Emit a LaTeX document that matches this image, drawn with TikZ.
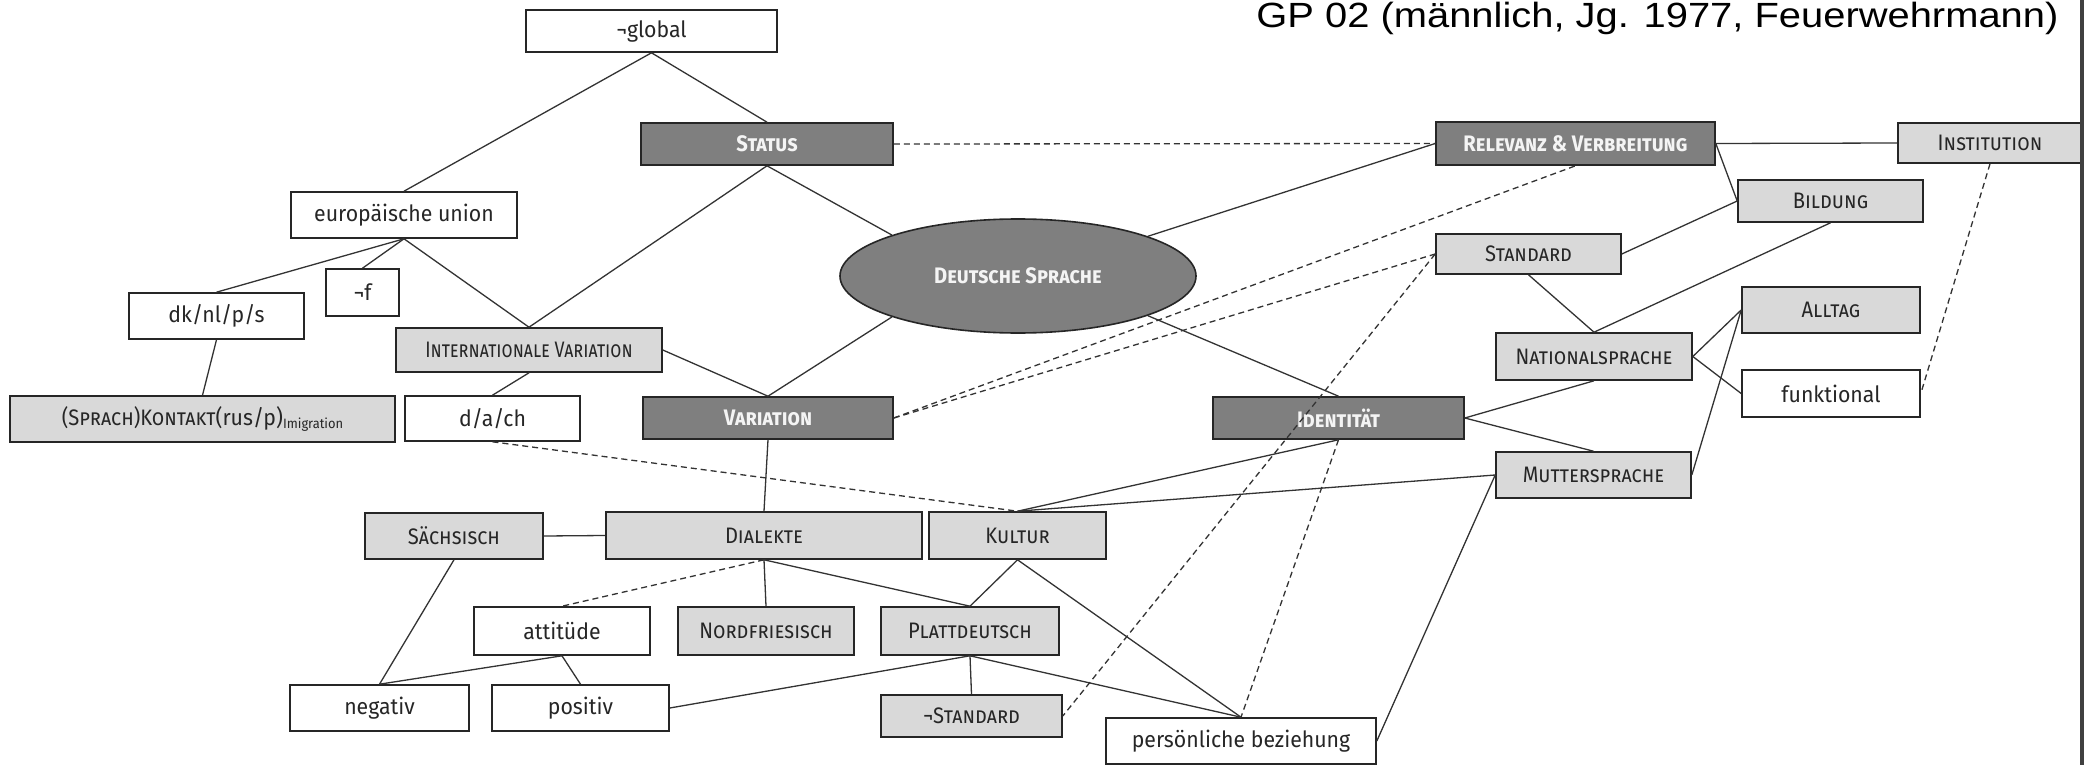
\documentclass[tikz,border=0pt]{standalone}
\usepackage{fontspec}
\usetikzlibrary{shapes.geometric}
\newfontfamily\bxf[FakeStretch=0.9]{Fira Sans}
\newfontfamily\bxl[FakeStretch=0.95]{Fira Sans}
\newfontfamily\bxn[FakeStretch=0.8]{Fira Sans}
\newfontfamily\ttlf[FakeStretch=1.14]{Liberation Sans}
\definecolor{darkfill}{HTML}{7F7F7F}
\definecolor{lightfill}{HTML}{D9D9D9}
\definecolor{edgecol}{HTML}{333333}
\definecolor{darktext}{HTML}{F4F4F4}
\newcommand\gbox[7]{\node[#1, minimum width={(#5-#3)*0.5pt}, minimum height={(#6-#4)*0.5pt}] (#2) at ({(#3+#5)/2},{(#4+#6)/2}) {#7};}
\begin{document}
\begin{tikzpicture}[x=0.5pt,y=-0.5pt,
  base/.style={draw=black!85, line width=0.8pt, inner sep=0pt, font=\bxl\fontsize{11.2}{13}\selectfont},
  darkbox/.style={base, fill=darkfill, text=darktext, font=\bxf\fontsize{11.2}{13}\selectfont\bfseries\scshape},
  lightbox/.style={base, fill=lightfill, text=black!85, font=\bxf\fontsize{11.2}{13}\selectfont\scshape},
  whitebox/.style={base, fill=white, text=black!85},
  link/.style={draw=edgecol, line width=0.65pt},
  dlink/.style={link, dash pattern=on 3pt off 2pt}]
\useasboundingbox (0,0) rectangle (2084,765);
\fill[white] (0,0) rectangle (2084,765);

% nodes
\gbox{whitebox}{glob}{526}{10}{777}{52}{¬global}
\gbox{whitebox}{eu}{291}{192}{517}{238}{europäische union}
\gbox{whitebox}{negf}{326}{269}{399}{316}{¬f}
\gbox{whitebox}{dk}{129}{293}{304}{339}{dk/nl/p/s}
\gbox{lightbox}{intvar}{396}{328}{662}{372}{{\bxn Internationale Variation}}
\gbox{lightbox}{kontakt}{10}{396}{395}{442}{(Sprach)Kontakt{\upshape\bxl(rus/p)\raisebox{-1.5pt}{\fontsize{6.8}{7}\selectfont Imigration}}}
\gbox{whitebox}{dach}{405}{396}{580}{441}{d/a/ch}
\gbox{darkbox}{status}{641}{123}{893}{165}{Status}
\gbox{darkbox}{variation}{643}{397}{893}{439}{Variation}
\node[ellipse, draw=black!85, line width=0.8pt, fill=darkfill, text=darktext, inner sep=0pt,
  minimum width=178pt, minimum height=57pt,
  font=\bxf\fontsize{11.2}{13}\selectfont\bfseries\scshape] (ell) at (1018,276) {Deutsche Sprache};
\gbox{darkbox}{ident}{1213}{397}{1464}{439}{Identität}
\gbox{darkbox}{relev}{1436}{122}{1715}{165}{Relevanz \& Verbreitung}
\gbox{lightbox}{inst}{1898}{123}{2082}{163}{Institution}
\gbox{lightbox}{bild}{1738}{180}{1923}{222}{Bildung}
\gbox{lightbox}{std}{1436}{234}{1621}{274}{Standard}
\gbox{lightbox}{alltag}{1742}{287}{1920}{333}{Alltag}
\gbox{lightbox}{nat}{1496}{333}{1692}{380}{Nationalsprache}
\gbox{whitebox}{funk}{1742}{370}{1920}{417}{funktional}
\gbox{lightbox}{mutter}{1496}{452}{1691}{498}{Muttersprache}
\gbox{lightbox}{kultur}{929}{512}{1106}{559}{Kultur}
\gbox{lightbox}{dial}{606}{512}{922}{559}{Dialekte}
\gbox{lightbox}{saechs}{365}{513}{543}{559}{Sächsisch}
\gbox{whitebox}{att}{474}{607}{650}{655}{attitüde}
\gbox{lightbox}{nordf}{678}{607}{854}{655}{Nordfriesisch}
\gbox{lightbox}{platt}{881}{607}{1059}{655}{Plattdeutsch}
\gbox{whitebox}{neg}{290}{685}{469}{731}{negativ}
\gbox{whitebox}{pos}{492}{685}{669}{731}{positiv}
\gbox{lightbox}{nstd}{881}{695}{1062}{737}{¬Standard}
\gbox{whitebox}{pers}{1106}{718}{1376}{764}{persönliche beziehung}

\node[anchor=base west, inner sep=0pt, font=\ttlf\fontsize{17.5}{20}\selectfont] (title) at (1256,28) {GP 02 (männlich, Jg. 1977, Feuerwehrmann)};

% solid links
\draw[link] (glob.south) -- (eu.north);
\draw[link] (glob.south) -- (status.north);
\draw[link] (eu.south) -- (dk.north);
\draw[link] (eu.south) -- (negf.north);
\draw[link] (eu.south) -- (intvar.north);
\draw[link] (status.south) -- (intvar.north);
\draw[link] (status.south) -- (ell.162);
\draw[link] (ell.17) -- (relev.west);
\draw[link] (relev.east) -- (inst.west);
\draw[link] (relev.east) -- (bild.west);
\draw[link] (bild.west) -- (std.east);
\draw[link] (bild.south) -- (nat.north);
\draw[link] (std.south) -- (nat.north);
\draw[link] (nat.east) -- (alltag.west);
\draw[link] (nat.east) -- (funk.west);
\draw[link] (mutter.east) -- (alltag.west);
\draw[link] (ident.east) -- (nat.south);
\draw[link] (ident.east) -- (mutter.north);
\draw[link] (ell.343) -- (ident.north);
\draw[link] (ell.198) -- (variation.north);
\draw[link] (intvar.east) -- (variation.north);
\draw[link] (intvar.south) -- (dach.north);
\draw[link] (dk.south) -- (kontakt.north);
\draw[link] (variation.south) -- (dial.north);
\draw[link] (saechs.east) -- (dial.west);
\draw[link] (kultur.north) -- (ident.south);
\draw[link] (kultur.north) -- (mutter.west);
\draw[link] (mutter.west) -- (pers.east);
\draw[link] (saechs.south) -- (neg.north);
\draw[link] (dial.south) -- (nordf.north);
\draw[link] (dial.south) -- (platt.north);
\draw[link] (kultur.south) -- (platt.north);
\draw[link] (kultur.south) -- (pers.north);
\draw[link] (att.south) -- (neg.north);
\draw[link] (att.south) -- (pos.north);
\draw[link] (platt.south) -- (pos.east);
\draw[link] (platt.south) -- (nstd.north);
\draw[link] (platt.south) -- (pers.north);

% dashed links
\draw[dlink] (status.east) -- (relev.west);
\draw[dlink] (inst.south) -- (funk.east);
\draw[dlink] (variation.east) -- (relev.south);
\draw[dlink] (variation.east) -- (std.west);
\draw[dlink] (std.west) -- (nstd.east);
\draw[dlink] (ident.south) -- (pers.north);
\draw[dlink] (dach.south) -- (kultur.north);
\draw[dlink] (dial.south) -- (att.north);

% right edge strip
\fill[black!75] (2080,0) rectangle (2084,765);
\end{tikzpicture}
\end{document}
